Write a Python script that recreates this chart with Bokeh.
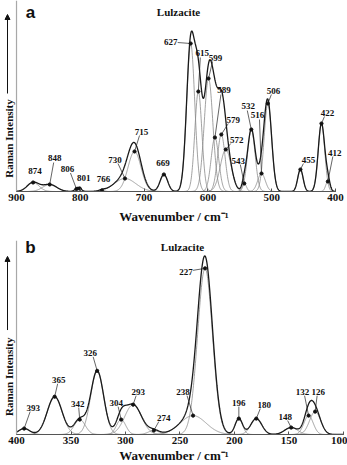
import numpy as np
from bokeh.plotting import figure
from bokeh.layouts import column
from bokeh.models import Range1d, FixedTicker, Span, Label, Arrow, NormalHead
from bokeh.embed import file_html
from bokeh.resources import INLINE
from bokeh.core.properties import value

# ---------------- data ----------------
# panel a : fitted Raman bands 900-400 cm-1 (centre, height, FWHM)
a_bands   = [874, 848, 806, 801, 766, 730, 715, 669, 627, 615, 599, 589, 579, 572, 543, 532, 516, 506, 455, 422, 412]
a_heights = [9, 7, 2.5, 3, 1, 13, 40, 17, 148, 100, 113, 54, 57, 42, 8, 62, 18, 88, 22, 68, 10]
a_fwhm    = [22, 26, 8, 8, 10, 40, 24, 14, 15, 13, 16, 14, 14, 20, 8, 14, 14, 14, 10, 12, 8]
a_ticks   = [900, 800, 700, 600, 500, 400]

# panel b : fitted Raman bands 400-100 cm-1
b_bands   = [393, 365, 342, 326, 304, 293, 274, 238, 227, 196, 180, 148, 132, 126]
b_heights = [6, 38, 15, 64, 15, 30, 4, 19, 167, 16, 16, 7, 19, 23]
b_fwhm    = [12, 16, 12, 14, 10, 18, 12, 28, 16, 8, 12, 14, 10, 12]
b_ticks   = [400, 350, 300, 250, 200, 150, 100]

# ---------------- layout (screen px offsets of band labels) ----------------
a_lab = [(2, -12), (5, -27), (-9, -20), (4, -11), (1.5, -12), (-10, -19), (7, -20), (-1, -12),
         (-20, -2), (4, -39), (7, -21), (9, -48), (12, -15), (11, -10), (-6, -23), (-3, -24),
         (-4, -59), (5.5, -13), (8, -10), (6, -11), (7, -29)]
a_lead = [(0, 0), (4, -22), (-6, -16), (0, 0), (0, 0), (-7, -15), (5, -16), (0, 0),
          (-13, -1), (2, -34), (4, -17), (6, -43), (7, -11), (5, -6), (-4, -19), (-4, -19),
          (-2, -54), (3.5, -9), (3, -6), (3, -7), (5, -25)]
b_lab = [(9, -21), (4, -17), (-2, -16), (-7, -18), (-5, -17), (5, -13), (10, -13), (-10, -24),
         (-19, 4), (0, -16), (8, -14), (-6, -11), (-6, -24), (3, -20)]
b_lead = [(6, -17), (3, -13), (-1, -12), (-4, -14), (-3, -13), (3, -9), (5, -9), (-6, -20),
          (-12, 2), (0, -12), (4, -10), (-3.5, -7), (-4, -20), (2, -16)]

W = 347
SERIF = "Liberation Serif"


def gauss(x, c, h, fwhm):
    s = fwhm / 2.3548
    return h * np.exp(-0.5 * ((x - c) / s) ** 2)


def panel(letter, bands, heights, fwhm, ticks, xr, x_lo, x_hi, fig_h, top, frame_h,
          lab, lead, letter_xy, title_xy, ylab_xy, arrow_y, title_standoff):
    x0, x1 = xr
    kx = (x1 - x0) / W          # data units per screen px

    def dx(px):
        return x0 + px * kx

    def dy(py):                 # canvas-y of the figure -> data y
        return frame_h - (py - top)

    p = figure(width=W, height=fig_h, x_range=Range1d(x0, x1), y_range=Range1d(0, frame_h),
               output_backend="svg", toolbar_location=None, y_axis_location=None,
               min_border_left=0, min_border_right=0, min_border_top=top,
               min_border_bottom=fig_h - top - frame_h)
    p.outline_line_color = None
    p.xgrid.visible = False
    p.ygrid.visible = False
    p.background_fill_color = "white"

    x = np.linspace(x_hi, x_lo, 1200)
    comps = [gauss(x, c, h, f) for c, h, f in zip(bands, heights, fwhm)]
    p.multi_line([x] * len(comps), comps, line_color="#8a8a8a", line_width=0.8)
    p.line(x, np.sum(comps, axis=0), line_color="#1a1a1a", line_width=1.3)

    # leader lines and labels
    lx0, ly0, lx1, ly1, tx, ty = [], [], [], [], [], []
    for c, h, (ox, oy), (ex, ey) in zip(bands, heights, lab, lead):
        lx0.append(c); ly0.append(h)
        lx1.append(c + ex * kx); ly1.append(h - ey)
        tx.append(c + ox * kx); ty.append(h - oy)
    p.segment(lx0, ly0, lx1, ly1, line_color="#222222", line_width=0.7)
    p.scatter(bands, heights, size=3.2, color="#111111")
    p.text(tx, ty, text=[str(b) for b in bands], text_font=value(SERIF), text_font_style="bold",
           text_font_size="9px", text_align="center", text_baseline="middle", text_color="#111111")

    # y-axis line
    p.add_layout(Span(location=x_hi, dimension="height", line_color="#a8a8a8", line_width=1.2))

    # x axis
    ax = p.xaxis[0]
    ax.ticker = FixedTicker(ticks=ticks)
    ax.bounds = (x_lo, x_hi)
    ax.axis_line_color = "#555555"
    ax.axis_line_width = 1
    ax.major_tick_in = 3
    ax.major_tick_out = 0
    ax.minor_tick_line_color = None
    ax.major_tick_line_color = "#555555"
    ax.major_label_text_font = SERIF
    ax.major_label_text_font_style = "bold"
    ax.major_label_text_font_size = "11px"
    ax.major_label_text_color = "#111111"
    ax.major_label_standoff = 2
    ax.axis_label = "Wavenumber / cm\u207b\u00b9"
    ax.axis_label_text_font = SERIF
    ax.axis_label_text_font_style = "bold"
    ax.axis_label_text_font_size = "13px"
    ax.axis_label_text_color = "#111111"
    ax.axis_label_standoff = title_standoff

    p.add_layout(Label(x=dx(letter_xy[0]), y=dy(letter_xy[1]), text=letter, text_font="Liberation Sans",
                       text_font_style="bold", text_font_size="17px", text_align="center",
                       text_baseline="middle", text_color="#111111"))
    p.add_layout(Label(x=dx(title_xy[0]), y=dy(title_xy[1]), text="Lulzacite", text_font=SERIF,
                       text_font_style="bold", text_font_size="11px", text_align="center",
                       text_baseline="middle", text_color="#111111"))
    p.add_layout(Label(x=dx(ylab_xy[0]), y=dy(ylab_xy[1]), text="Raman Intensity", text_font=SERIF,
                       text_font_style="bold", text_font_size="11px", text_align="center",
                       text_baseline="middle", angle=np.pi / 2, text_color="#111111"))
    p.add_layout(Arrow(x_start=dx(ylab_xy[0] - 1), y_start=dy(arrow_y[0]),
                       x_end=dx(ylab_xy[0] - 1), y_end=dy(arrow_y[1]), line_width=1, line_color="#111111",
                       end=NormalHead(size=5, fill_color="#111111", line_color="#111111")))
    return p


pa = panel("a", a_bands, a_heights, a_fwhm, a_ticks, (925.1, 381.2), 400, 900,
           228, 0, 191, a_lab, a_lead, (30, 12), (178, 11), (8, 138), (93, 14), 5)
pb = panel("b", b_bands, b_heights, b_fwhm, b_ticks, (414.7, 96.3), 100, 400,
           237, 12, 195, b_lab, b_lead, (30, 19), (182, 19), (8, 149), (102, 28), 1)

layout = column(pa, pb, spacing=0)
open("out.html", "w").write(file_html(layout, INLINE))
